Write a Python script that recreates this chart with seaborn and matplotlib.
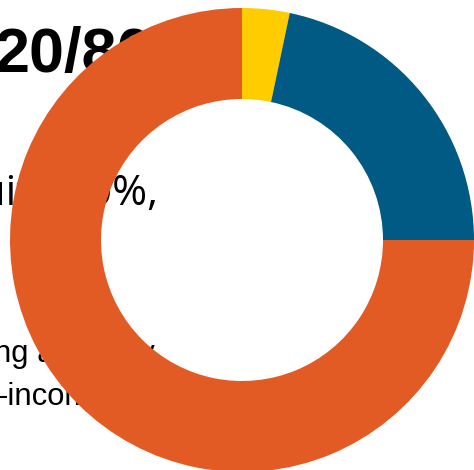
import matplotlib
matplotlib.use("Agg")
import matplotlib.pyplot as plt
import seaborn as sns

# Portfolio split shown in the ring, clockwise from 12 o'clock
segments = ["Cash", "Bonds", "Equity"]
shares = [3.3, 21.7, 75.0]
colors = ["#FFCC00", "#005A84", "#E35B24"]

# Text sitting behind the ring
heading = "20/80"
line_two = "equity 80%,"
line_three = "ng a steady"
line_four = "-income"

sns.set_theme(style="white")
plt.rcParams["font.family"] = ["Liberation Sans", "DejaVu Sans"]

W, H, DPI = 474, 470, 100
fig = plt.figure(figsize=(W / DPI, H / DPI), dpi=DPI)
fig.patch.set_facecolor("white")

def px(x, y):
    return x / W, 1 - y / H

fig.text(*px(-5, 72), heading, fontsize=45.4, fontweight="bold",
         color="black", va="baseline", ha="left", zorder=-1)
fig.text(*px(158, 205), line_two, fontsize=30.5, family=["Open Sans", "DejaVu Sans"],
         color="black", va="baseline", ha="right", zorder=-1)
fig.text(*px(-6, 362), line_three, fontsize=22.3, color="black",
         va="baseline", ha="left", zorder=-1)
fig.text(*px(-2, 405), line_four, fontsize=22.3, color="black",
         va="baseline", ha="left", zorder=-1)

# Ring: centre (242, 240) px, outer radius 232 px, inner radius 141 px
cx, cy, r = 242, 240, 232
ax = fig.add_axes([(cx - r) / W, (H - cy - r) / H, 2 * r / W, 2 * r / H])
ax.set_zorder(2)
ax.pie(shares, colors=colors, startangle=90, counterclock=False,
       wedgeprops=dict(width=(232 - 141) / 232, linewidth=0))
ax.set_xlim(-1, 1)
ax.set_ylim(-1, 1)
ax.set_aspect("equal")
ax.axis("off")

fig.savefig("out.png", dpi=DPI, facecolor="white")
